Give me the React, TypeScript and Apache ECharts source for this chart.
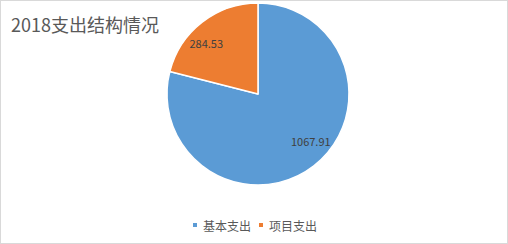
import React, { useEffect, useRef } from "react";
import * as echarts from "echarts";

const categories = ["基本支出", "项目支出"];
const values = [1067.91, 284.53];
const colors = ["#5B9BD5", "#ED7D31"];
const labelOffsets: [number, number][] = [
  [23, 9],
  [-22, -13],
];

export default function App() {
  const ref = useRef<HTMLDivElement>(null);

  useEffect(() => {
    if (!ref.current) return;
    const chart = echarts.init(ref.current, undefined, { renderer: "svg" });
    chart.setOption({
      animation: false,
      backgroundColor: "#ffffff",
      title: {
        text: "2018支出结构情况",
        left: 10,
        top: 14,
        padding: 0,
        textStyle: {
          fontFamily: "Noto Sans CJK SC",
          fontSize: 18,
          fontWeight: "normal",
          color: "#595959",
        },
      },
      legend: {
        data: categories,
        left: "center",
        top: 213,
        itemWidth: 6,
        itemHeight: 6,
        itemGap: 6,
        icon: "rect",
        textStyle: {
          fontFamily: "Noto Sans CJK SC",
          fontSize: 12,
          color: "#595959",
        },
      },
      series: [
        {
          type: "pie",
          center: [257, 93],
          radius: 91,
          startAngle: 90,
          clockwise: true,
          itemStyle: { borderColor: "#ffffff", borderWidth: 1.5 },
          label: {
            show: true,
            position: "inside",
            fontFamily: "Noto Sans CJK SC",
            fontSize: 11,
            color: "#404040",
            formatter: (p: any) => p.value.toFixed(2),
          },
          emphasis: { disabled: true },
          data: categories.map((name, i) => ({
            name,
            value: values[i],
            itemStyle: { color: colors[i] },
            label: { offset: labelOffsets[i] },
          })),
        },
      ],
    });
    return () => chart.dispose();
  }, []);

  return (
    <div
      style={{
        position: "fixed",
        left: 0,
        top: 0,
        width: 508,
        height: 244,
        boxSizing: "border-box",
        border: "1px solid #d9d9d9",
        background: "#ffffff",
      }}
    >
      <div ref={ref} style={{ width: 506, height: 242 }} />
    </div>
  );
}
